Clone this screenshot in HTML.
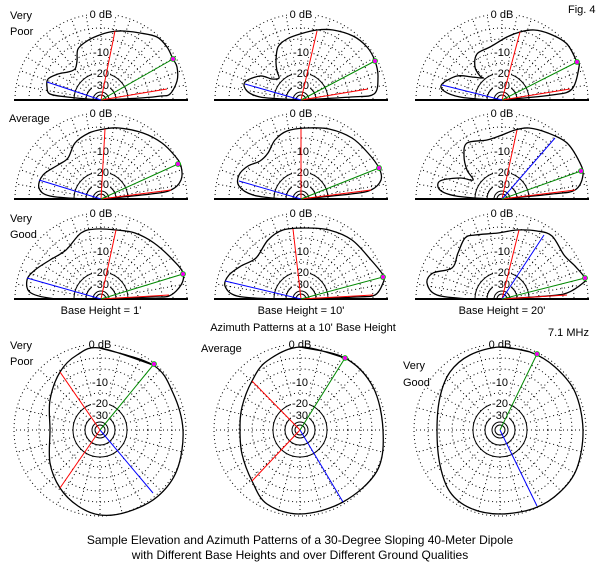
<!DOCTYPE html>
<html><head><meta charset="utf-8"><style>
body{margin:0;background:#fff}
svg{display:block}
text{font-family:"Liberation Sans",sans-serif;font-size:11px;fill:#000}
</style></head><body>
<svg id="s" width="600" height="565" xmlns="http://www.w3.org/2000/svg">
<g id="g"></g>
<text x="568" y="13">Fig. 4</text>
<text x="10" y="19">Very</text><text x="10" y="35">Poor</text>
<text x="9" y="122">Average</text>
<text x="10" y="222">Very</text><text x="10" y="238">Good</text>
<text x="101" y="314" text-anchor="middle">Base Height = 1'</text>
<text x="301" y="314" text-anchor="middle">Base Height = 10'</text>
<text x="502" y="314" text-anchor="middle">Base Height = 20'</text>
<text x="303" y="331" text-anchor="middle">Azimuth Patterns at a 10' Base Height</text>
<text x="548" y="336">7.1 MHz</text>
<text x="10" y="349">Very</text><text x="10" y="365">Poor</text>
<text x="201" y="352">Average</text>
<text x="403" y="369">Very</text><text x="403" y="386">Good</text>
<text x="300" y="544" text-anchor="middle" style="font-size:12px">Sample Elevation and Azimuth Patterns of a 30-Degree Sloping 40-Meter Dipole</text>
<text x="300" y="559" text-anchor="middle" style="font-size:12px">with Different Base Heights and over Different Ground Qualities</text>
</svg>
<script>
var g=document.getElementById('g'),NS='http://www.w3.org/2000/svg',R=86;
function el(t,a){var e=document.createElementNS(NS,t);for(var k in a)e.setAttribute(k,a[k]);g.appendChild(e);return e;}
function smooth(p){var d='M'+p[0][0].toFixed(1)+' '+p[0][1].toFixed(1);for(var i=0;i<p.length-1;i++){var p0=p[Math.max(i-1,0)],p1=p[i],p2=p[i+1],p3=p[Math.min(i+2,p.length-1)];
d+=' C'+(p1[0]+(p2[0]-p0[0])/6).toFixed(1)+' '+(p1[1]+(p2[1]-p0[1])/6).toFixed(1)+' '+(p2[0]-(p3[0]-p1[0])/6).toFixed(1)+' '+(p2[1]-(p3[1]-p1[1])/6).toFixed(1)+' '+p2[0].toFixed(1)+' '+p2[1].toFixed(1);}return d;}
var dotted=[86,72,61,48,37],solid=[27,15,8,5];
function grid(cx,cy,half){
 var a0=half?0:0,a1=half?180:360,step=half?10:15;
 dotted.forEach(function(r){ if(half) el('path',{d:'M'+(cx-r)+' '+cy+' A'+r+' '+r+' 0 0 1 '+(cx+r)+' '+cy,fill:'none',stroke:'#000','stroke-dasharray':'1 3'});
  else el('circle',{cx:cx,cy:cy,r:r,fill:'none',stroke:'#000','stroke-dasharray':'1 3'});});
 solid.forEach(function(r){ if(half) el('path',{d:'M'+(cx-r)+' '+cy+' A'+r+' '+r+' 0 0 1 '+(cx+r)+' '+cy,fill:'none',stroke:'#000'});
  else el('circle',{cx:cx,cy:cy,r:r,fill:'none',stroke:'#000'});});
 for(var a=a0+step;a<a1+(half?0:1);a+=step){ if(half&&a>=180)break; var t=a*Math.PI/180;
  el('line',{x1:cx+15*Math.cos(t),y1:cy-15*Math.sin(t),x2:cx+86*Math.cos(t),y2:cy-86*Math.sin(t),stroke:'#000','stroke-dasharray':'1 3'});}
 if(half) el('line',{x1:cx-87,y1:cy,x2:cx+87,y2:cy,stroke:'#000','stroke-width':2});
 [['0 dB',86],['-10',48],['-20',27],['-30',15]].forEach(function(l){
  var y=cy-l[1]+4; el('rect',{x:cx-(l[0].length>3?14:9),y:y-9,width:l[0].length>3?28:18,height:10,fill:'#fff'});
  var t=el('text',{x:cx,y:y,'text-anchor':'middle'});t.textContent=l[0];});
}
function pat(cx,cy,pts,red,blue,green,half){
 var p=pts.map(function(q){return [cx+q[0],cy-q[1]];});
 if(half){p.unshift([cx,cy]);p.push([cx,cy]);} else p.push(p[0],p[1]);
 var d=smooth(p); el('path',{d:d,fill:'none',stroke:'#000','stroke-width':1.3});
 red.forEach(function(r){el('line',{x1:cx,y1:cy,x2:cx+r[0],y2:cy-r[1],stroke:'#f00'});});
 if(blue)el('line',{x1:cx,y1:cy,x2:cx+blue[0],y2:cy-blue[1],stroke:'#00f'});
 el('line',{x1:cx,y1:cy,x2:cx+green[0],y2:cy-green[1],stroke:'#080'});
 el('circle',{cx:cx+green[0],cy:cy-green[1],r:2.5,fill:'#e0e',stroke:'#0c0','stroke-width':0.8});
}
var E=[
[101,100,[[40,2],[60,4],[69,6],[76,19],[76,33],[72,41],[66,53],[56,63],[39,67],[22,69],[9,68],[-4,64],[-14,59],[-23,51],[-24,39],[-26,31],[-33,28],[-43,26],[-53,21],[-54,13],[-51,6],[-34,3],[-14,1]],[[14,69],[66,11]],[-54,18],[72,41]],
[301,100,[[50,3],[73,6],[77,23],[74,39],[66,53],[52,64],[32,70],[16,70],[-1,66],[-14,61],[-23,53],[-25,39],[-24,29],[-22,22],[-29,21],[-41,24],[-56,18],[-54,9],[-41,3],[-18,1]],[[16,69],[67,11]],[-56,16],[74,39]],
[502,100,[[50,5],[70,11],[77,33],[75,38],[65,56],[48,66],[32,70],[18,68],[5,63],[-12,53],[-25,46],[-27,33],[-22,24],[-19,22],[-30,23],[-45,24],[-60,16],[-58,9],[-42,3],[-12,0]],[[18,68],[68,11]],[-60,15],[75,38]],
[101,199,[[50,5],[70,9],[80,19],[80,33],[74,43],[61,56],[42,66],[18,71],[3,70],[-12,66],[-26,56],[-33,41],[-43,34],[-58,24],[-62,11],[-51,3],[-16,0]],[[4,70],[70,9]],[-62,19],[77,35]],
[301,199,[[50,5],[70,9],[80,19],[78,31],[67,46],[51,61],[28,70],[5,71],[-14,68],[-26,59],[-33,46],[-41,38],[-53,33],[-62,24],[-62,13],[-48,4],[-18,0]],[[0,70],[70,9]],[-62,18],[78,31]],
[502,199,[[50,5],[73,9],[81,24],[77,38],[65,56],[46,66],[27,71],[13,69],[0,64],[-15,59],[-35,56],[-38,43],[-35,29],[-29,19],[-42,21],[-62,18],[-62,9],[-46,3],[-12,0]],[[15,69],[73,9]],[53,61],[79,28]],
[101,299,[[50,2],[68,3],[80,14],[82,26],[72,39],[53,56],[34,66],[15,69],[-5,70],[-20,66],[-35,49],[-51,39],[-66,29],[-74,19],[-70,6],[-43,0]],[[15,69],[68,4]],[-74,21],[82,25]],
[301,299,[[55,2],[74,4],[82,16],[82,24],[70,39],[51,59],[28,69],[5,71],[-18,69],[-33,59],[-45,41],[-60,33],[-72,24],[-76,13],[-64,3],[-26,0]],[[-8,70],[72,4]],[-76,18],[82,22]],
[502,299,[[45,3],[65,6],[81,16],[83,21],[73,33],[62,44],[50,63],[35,68],[15,69],[-4,66],[-27,64],[-37,61],[-44,46],[-50,31],[-69,26],[-75,16],[-65,4],[-31,0]],[[17,69],[65,4]],[42,64],[83,21]]
];
E.forEach(function(e){grid(e[0],e[1],true);});
E.forEach(function(e){pat(e[0],e[1],e[2],e[3],e[4],e[5],true);});
var A=[
[100,430,[[0,82],[53,65],[73,37],[83,0],[77,-40],[57,-67],[27,-82],[0,-85],[-22,-76],[-40,-58],[-50,-33],[-50,0],[-50,30],[-40,58],[-23,75]],[[-40,58],[-40,-58]],[53,-63],[54,66]],
[300,430,[[0,83],[45,72],[73,43],[83,0],[77,-41],[43,-72],[0,-84],[-33,-74],[-48,-51],[-58,-24],[-60,0],[-58,23],[-48,49],[-33,69]],[[-48,49],[-48,-51]],[43,-72],[45,72]],
[500,430,[[0,83],[30,78],[55,63],[75,38],[83,0],[77,-38],[60,-62],[35,-78],[0,-84],[-30,-78],[-50,-62],[-60,-35],[-63,0],[-60,33],[-50,58],[-30,75]],[],[37,-76],[37,76]]
];
A.forEach(function(a){grid(a[0],a[1],false);});
A.forEach(function(a){pat(a[0],a[1],a[2],a[3],a[4],a[5],false);});
</script>
</body></html>
